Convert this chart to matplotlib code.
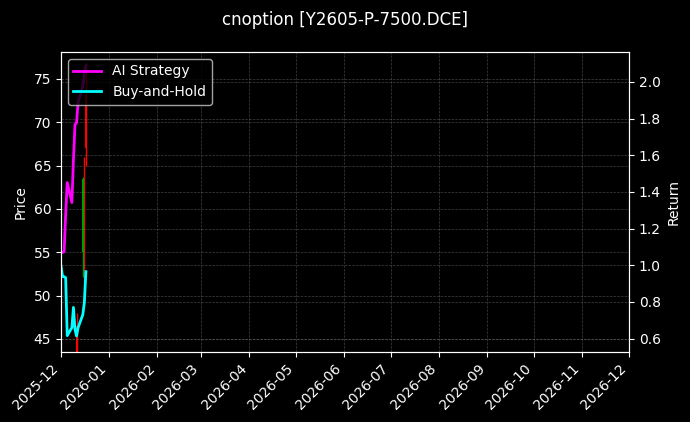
import matplotlib
matplotlib.use("Agg")
import matplotlib.pyplot as plt
import matplotlib.dates as mdates
import numpy as np
import pandas as pd

plt.style.use("dark_background")

# trading days shown
dates = pd.to_datetime([
    "2025-12-01", "2025-12-02", "2025-12-03", "2025-12-04", "2025-12-05",
    "2025-12-08", "2025-12-09", "2025-12-10", "2025-12-11", "2025-12-12",
    "2025-12-15", "2025-12-16", "2025-12-17",
])
ai_return = [1.069, 1.070, 1.074, 1.276, 1.451, 1.342, 1.576, 1.767, 1.778,
             1.890, 1.975, 2.050, 2.089]
bh_return = [0.995, 0.938, 0.938, 0.932, 0.616, 0.660, 0.770, 0.649, 0.614,
             0.660, 0.730, 0.796, 0.965]

# candles that can be seen in the chart
candle_dates = pd.to_datetime(["2025-12-11", "2025-12-16", "2025-12-17", "2025-12-15"])
c_open = [46.5, 62.5, 73.1, 55.0]
c_high = [48.0, 66.0, 77.0, 63.7]
c_low = [43.0, 51.6, 65.0, 52.2]
c_close = [43.5, 53.0, 67.0, 63.5]

fig, ax = plt.subplots(figsize=(6.9, 4.22), dpi=100)
fig.subplots_adjust(left=0.0884, right=0.9116, top=0.877, bottom=0.166)

colors = ["#00a000" if c >= o else "red" for o, c in zip(c_open, c_close)]
for d, o, h, l, c, col in zip(candle_dates, c_open, c_high, c_low, c_close, colors):
    ax.vlines(d, l, h, colors=col, linewidth=1)
    ax.bar(d, c - o, bottom=o, width=0.7, color=col)
ax.set_ylabel("Price")
ax.set_ylim(43.5, 78.12)
ax.grid(True, linestyle="--", linewidth=0.5, color="gray", alpha=0.5)

ax2 = ax.twinx()
ax2.plot(dates, ai_return, color="#ff00ff", linewidth=2, label="AI Strategy")
ax2.plot(dates, bh_return, color="#00ffff", linewidth=2, label="Buy-and-Hold")
ax2.set_ylabel("Return")
ax2.set_ylim(0.527, 2.164)
ax2.grid(True, linestyle="--", linewidth=0.5, color="gray", alpha=0.5)
ax2.legend(loc="upper left")

ax.set_xlim(pd.Timestamp("2025-12-01"), pd.Timestamp("2026-12-01"))
ax.xaxis.set_major_locator(mdates.MonthLocator())
ax.xaxis.set_major_formatter(mdates.DateFormatter("%Y-%m"))
plt.setp(ax.get_xticklabels(), rotation=45, ha="right")

fig.suptitle("cnoption [Y2605-P-7500.DCE]", y=0.975)

fig.savefig("out.png", dpi=100)
